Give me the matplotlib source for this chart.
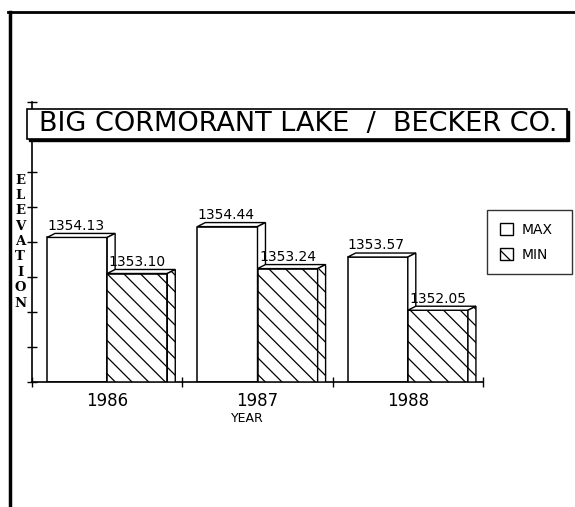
import matplotlib.pyplot as plt
from matplotlib.patches import Polygon, Rectangle, Patch
from matplotlib.lines import Line2D

years = ['1986', '1987', '1988']
max_elev = [1354.13, 1354.44, 1353.57]
min_elev = [1353.10, 1353.24, 1352.05]
max_labels = ['1354.13', '1354.44', '1353.57']
min_labels = ['1353.10', '1353.24', '1352.05']

W, H = 575, 507
fig = plt.figure(figsize=(W / 100, H / 100), dpi=100)
plt.rcParams['hatch.linewidth'] = 0.9


def fx(px):
    return px / W


def fy(py):
    return 1 - py / H


# axes placed in pixel terms
ax = fig.add_axes([fx(32), fy(382), fx(483) - fx(32), fy(102) - fy(382)])
ax.set_xlim(-0.5, 2.5)
ax.set_ylim(1350, 1358)

bw = 0.4
dx, dy = 0.053, 0.115


def box3d(x0, top, hatch, z):
    base = 1350
    ax.add_patch(Rectangle((x0, base), bw, top - base, facecolor='white', edgecolor='black',
                           lw=1.1, hatch=hatch, zorder=z))
    # top face
    ax.add_patch(Polygon([(x0, top), (x0 + dx, top + dy), (x0 + bw + dx, top + dy), (x0 + bw, top)],
                         closed=True, facecolor='white', edgecolor='black', lw=1.0, zorder=z))
    # side face
    ax.add_patch(Polygon([(x0 + bw, base), (x0 + bw + dx, base), (x0 + bw + dx, top + dy), (x0 + bw, top)],
                         closed=True, facecolor='white', edgecolor='black', lw=1.0, hatch=hatch, zorder=z))


for i in range(len(years)):
    box3d(i - bw, max_elev[i], None, 2)
    box3d(i, min_elev[i], '\\\\', 3)
    ax.text(i - bw, max_elev[i] + dy + 0.02, max_labels[i], ha='left', va='bottom', fontsize=10, zorder=5)
    ax.text(i + 0.01, min_elev[i] + dy + 0.02, min_labels[i], ha='left', va='bottom', fontsize=10, zorder=5)

ax.spines['top'].set_visible(False)
ax.spines['right'].set_visible(False)
for s in ['left', 'bottom']:
    ax.spines[s].set_linewidth(1.2)

ax.set_yticks(range(1350, 1359))
ax.set_yticklabels([])
ax.tick_params(axis='y', direction='inout', length=7, width=1.0)
ax.set_xticks([-0.5, 0.5, 1.5, 2.5])
ax.set_xticklabels([])
ax.tick_params(axis='x', direction='inout', length=7, width=1.0)
for i, y in enumerate(years):
    ax.text(i, 1349.7, y, ha='center', va='top', fontsize=12)
ax.text(0.93, 1349.15, 'YEAR', ha='center', va='top', fontsize=9)

# stacked y label
for k, ch in enumerate('ELEVATION'):
    fig.text(fx(20), fy(180 + k * 15.4), ch, ha='center', va='center', fontsize=9.5,
             family='DejaVu Serif', weight='bold')

# title box with shadow
fig.patches.append(Rectangle((fx(29), fy(141)), fx(569) - fx(29), fy(111) - fy(141),
                             transform=fig.transFigure, facecolor='black', edgecolor='black', zorder=10))
fig.patches.append(Rectangle((fx(27), fy(139)), fx(567) - fx(27), fy(109) - fy(139),
                             transform=fig.transFigure, facecolor='white', edgecolor='black', lw=1.2, zorder=11))
fig.text(fx(298), fy(124), 'BIG CORMORANT LAKE  /  BECKER CO.', ha='center', va='center',
         fontsize=19.5, zorder=12)

# legend
handles = [Patch(facecolor='white', edgecolor='black', label='MAX'),
           Patch(facecolor='white', edgecolor='black', hatch='\\\\', label='MIN')]
leg = fig.legend(handles=handles, loc='upper left',
                 bbox_to_anchor=(fx(487), fy(275), fx(572) - fx(487), fy(210) - fy(275)),
                 mode='expand', borderaxespad=0, frameon=True, fancybox=False, fontsize=10,
                 handlelength=1.0, handleheight=1.0,
                 borderpad=0.9, labelspacing=0.8, handletextpad=0.6)
leg.get_frame().set_edgecolor('black')
leg.get_frame().set_linewidth(1.0)

# page frame
fig.add_artist(Line2D([fx(8), fx(575)], [fy(12), fy(12)], color='black', lw=2))
fig.add_artist(Line2D([fx(10), fx(10)], [fy(12), fy(507)], color='black', lw=2.5))

fig.savefig('out.png', dpi=100)
